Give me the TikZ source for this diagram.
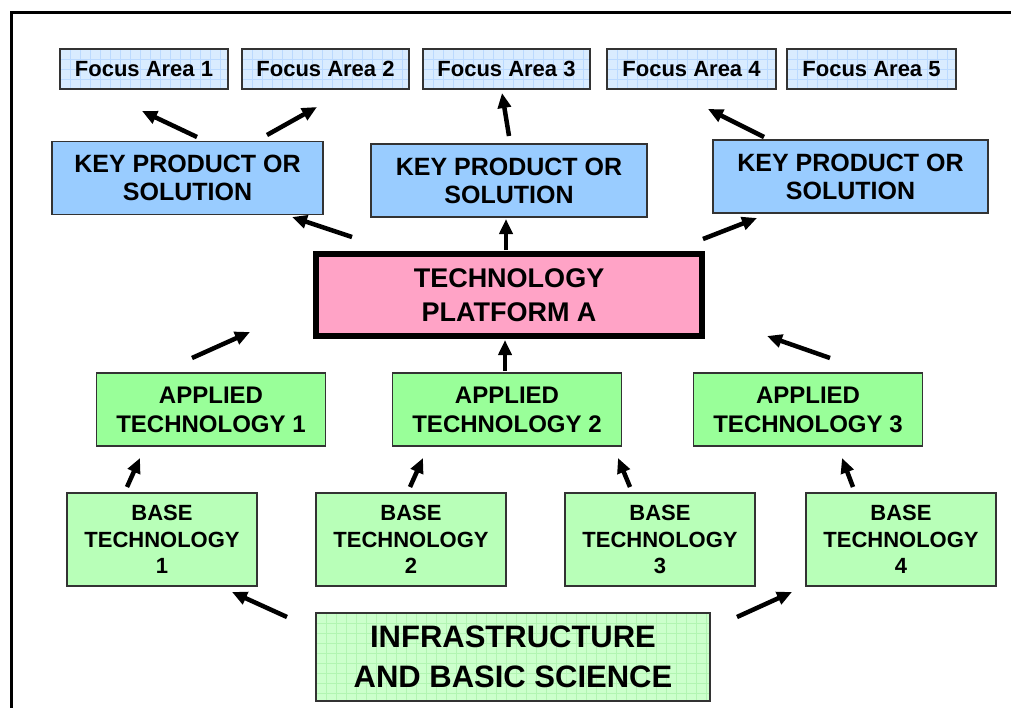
\documentclass[tikz,border=0pt]{standalone}
\usepackage{fontspec}
\setmainfont{Liberation Sans}
\usetikzlibrary{arrows.meta}
\definecolor{fafill}{HTML}{D9ECFF}
\definecolor{fagrid}{HTML}{BBDAFF}
\definecolor{kpfill}{HTML}{99CCFF}
\definecolor{tpfill}{HTML}{FFA3C6}
\definecolor{atfill}{HTML}{99FF99}
\definecolor{btfill}{HTML}{B8FFB8}
\definecolor{infill}{HTML}{CCFFCC}
\definecolor{ingrid}{HTML}{B2F5B2}
\definecolor{edge}{HTML}{333333}
\tikzset{
  gridfill/.style={path picture={
    \foreach \i in {0,...,40}{\draw[#1,line width=0.6pt] ([xshift=\i*10pt]path picture bounding box.north west) -- ([xshift=\i*10pt]path picture bounding box.south west);}
    \foreach \j in {0,...,10}{\draw[#1,line width=0.6pt] ([yshift=-\j*10pt]path picture bounding box.north west) -- ([yshift=-\j*10pt]path picture bounding box.north east);}
  }},
  box/.style={draw=edge, line width=1.3pt, rectangle, align=center, inner sep=0pt, text=black},
  focusbox/.style={box, fill=fafill, gridfill=fagrid, minimum height=40pt, font=\fontsize{22}{24}\selectfont\bfseries},
  keybox/.style={box, fill=kpfill, minimum height=73pt, font=\fontsize{25}{28}\selectfont\bfseries},
  platbox/.style={box, draw=black, line width=6pt, fill=tpfill, minimum width=386pt, minimum height=82pt, font=\fontsize{27}{34}\selectfont\bfseries},
  appbox/.style={box, fill=atfill, minimum width=229pt, minimum height=73pt, font=\fontsize{24}{29}\selectfont\bfseries},
  basebox/.style={box, fill=btfill, minimum width=190pt, minimum height=93pt, font=\fontsize{22}{26.5}\selectfont\bfseries},
  infrabox/.style={box, fill=infill, gridfill=ingrid, minimum width=394pt, minimum height=88pt, font=\fontsize{31}{40}\selectfont\bfseries},
  arrowline/.style={line width=4.5pt, draw=black, -{Triangle[length=15pt,width=13pt]}}
}
\begin{document}
\begin{tikzpicture}[x=1pt,y=-1pt]
\useasboundingbox (0,0) rectangle (1011,707);
\fill[white] (0,0) rectangle (1011,707);
\draw[line width=3pt] (11,708) -- (11,12) -- (1012,12);

% focus areas
\node[focusbox, minimum width=168pt] (fa1) at (144,69) {Focus Area 1};
\node[focusbox, minimum width=167pt] (fa2) at (325.5,69) {Focus Area 2};
\node[focusbox, minimum width=167pt] (fa3) at (506.5,69) {Focus Area 3};
\node[focusbox, minimum width=169pt] (fa4) at (691.5,69) {Focus Area 4};
\node[focusbox, minimum width=169pt] (fa5) at (871.5,69) {Focus Area 5};

% key products
\node[keybox, minimum width=271pt] (kp1) at (187.5,178) {KEY PRODUCT OR\\SOLUTION};
\node[keybox, minimum width=276pt] (kp2) at (509,180.5) {KEY PRODUCT OR\\SOLUTION};
\node[keybox, minimum width=275pt] (kp3) at (850.5,176.5) {KEY PRODUCT OR\\SOLUTION};

% platform
\node[platbox] (tp) at (509,295) {TECHNOLOGY\\PLATFORM A};

% applied
\node[appbox] (at1) at (211,409.5) {APPLIED\\TECHNOLOGY 1};
\node[appbox] (at2) at (507,409.5) {APPLIED\\TECHNOLOGY 2};
\node[appbox] (at3) at (808,409.5) {APPLIED\\TECHNOLOGY 3};

% base
\node[basebox] (bt1) at (162,539.5) {BASE\\TECHNOLOGY\\1};
\node[basebox] (bt2) at (411,539.5) {BASE\\TECHNOLOGY\\2};
\node[basebox] (bt3) at (660,539.5) {BASE\\TECHNOLOGY\\3};
\node[basebox] (bt4) at (901,539.5) {BASE\\TECHNOLOGY\\4};

% infrastructure
\node[infrabox] (inf) at (513,657) {INFRASTRUCTURE\\AND BASIC SCIENCE};

% arrow end points
\coordinate (a1s) at (197,137);  \coordinate (a1e) at (142,111);
\coordinate (a2s) at (267,135);  \coordinate (a2e) at (317,107);
\coordinate (a3s) at (509,136);  \coordinate (a3e) at (502,93);
\coordinate (a4s) at (764,137);  \coordinate (a4e) at (708,109);
\coordinate (a5s) at (352,237);  \coordinate (a5e) at (292,217);
\coordinate (a6s) at (506,250);  \coordinate (a6e) at (506,219);
\coordinate (a7s) at (703,239);  \coordinate (a7e) at (757,218);
\coordinate (a8s) at (192,358);  \coordinate (a8e) at (250,332);
\coordinate (a9s) at (505,371);  \coordinate (a9e) at (505,340);
\coordinate (a10s) at (830,358); \coordinate (a10e) at (767,336);
\coordinate (a11s) at (127,487); \coordinate (a11e) at (140,458);
\coordinate (a12s) at (410,487); \coordinate (a12e) at (423,458);
\coordinate (a13s) at (630,487); \coordinate (a13e) at (618,458);
\coordinate (a14s) at (853,487); \coordinate (a14e) at (842,458);
\coordinate (a15s) at (287,617); \coordinate (a15e) at (232,592);
\coordinate (a16s) at (737,617); \coordinate (a16e) at (792,592);

\foreach \k in {1,...,16}{\draw[arrowline] (a\k s) -- (a\k e);}
\end{tikzpicture}
\end{document}
